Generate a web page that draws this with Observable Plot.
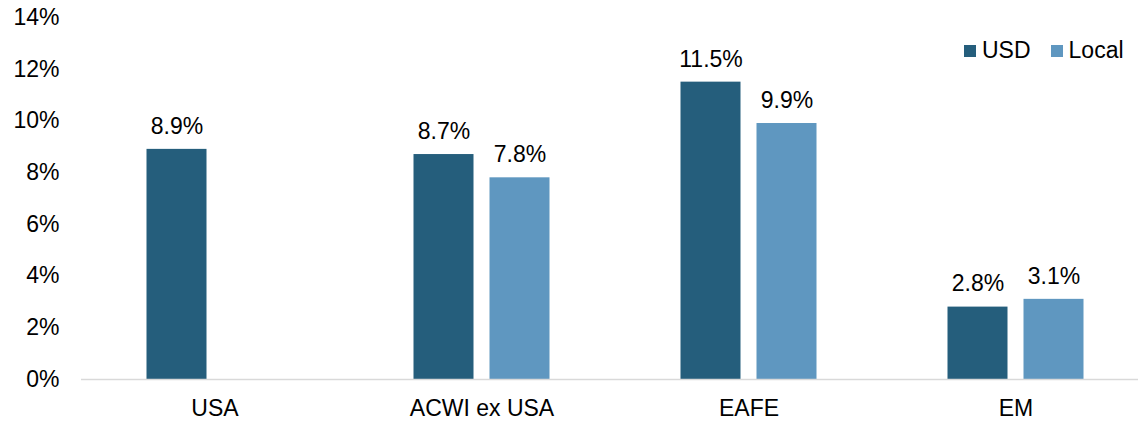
<!DOCTYPE html>
<html>
<head>
<meta charset="utf-8">
<script src="https://cdn.jsdelivr.net/npm/d3@7"></script>
<script src="https://cdn.jsdelivr.net/npm/@observablehq/plot@0.6"></script>
<style>
  html, body { margin: 0; padding: 0; background: #fff; }
  #wrap { position: relative; width: 1138px; height: 421px; font-family: "Liberation Sans", Arial, sans-serif; }
  #legend { position: absolute; left: 964px; top: 34px; width: 174px; white-space: nowrap; }
  .lg-swatches { font-family: "Liberation Sans", Arial, sans-serif !important; font-size: 23px !important; color: #000 !important; margin: 0 !important; flex-wrap: nowrap !important; }
  .lg-swatch { margin-right: 20px !important; }
  .lg-swatch > svg { margin-right: 6px !important; }
</style>
</head>
<body>
<div id="wrap"><div id="chart"></div><div id="legend"></div></div>
<script>
const categories = ["USA", "ACWI ex USA", "EAFE", "EM"];
const seriesNames = ["USD", "Local"];
const usdValues = [8.9, 8.7, 11.5, 2.8];
const localValues = [null, 7.8, 9.9, 3.1];
const seriesColors = ["#255e7c", "#5f97c0"];
const yTicks = [0, 2, 4, 6, 8, 10, 12, 14];

const usdRows = categories.map((c, i) => ({category: c, series: "USD", value: usdValues[i]})).filter(d => d.value != null);
const localRows = categories.map((c, i) => ({category: c, series: "Local", value: localValues[i]})).filter(d => d.value != null);

const font = "Liberation Sans, Arial, sans-serif";
const barInset = 103.5;
const offset = 38;

const chart = Plot.plot({
  width: 1138,
  height: 421,
  marginLeft: 81,
  marginRight: 0,
  marginTop: 17,
  marginBottom: 42,
  style: {fontFamily: font, fontSize: "23px", color: "#000", background: "#fff"},
  x: {domain: categories, range: [81, 1149], padding: 0, label: null},
  y: {domain: [0, 14], label: null},
  color: {domain: seriesNames, range: seriesColors},
  marks: [
    Plot.axisY({ticks: yTicks, tickSize: 0, tickPadding: 22, tickFormat: d => d + "%", fontSize: 23, label: null}),
    Plot.axisX({tickSize: 0, tickPadding: 20, fontSize: 23, label: null}),
    Plot.barY(usdRows, {x: "category", y: "value", fill: "series", dx: -offset, insetLeft: barInset, insetRight: barInset}),
    Plot.barY(localRows, {x: "category", y: "value", fill: "series", dx: offset, insetLeft: barInset, insetRight: barInset}),
    Plot.ruleY([0], {stroke: "#d9d9d9", strokeWidth: 1.5}),
    Plot.text(usdRows, {x: "category", y: "value", text: d => d.value.toFixed(1) + "%", dx: -offset, dy: -23, fontSize: 23, fill: "#000"}),
    Plot.text(localRows, {x: "category", y: "value", text: d => d.value.toFixed(1) + "%", dx: offset, dy: -23, fontSize: 23, fill: "#000"})
  ]
});
document.getElementById("chart").appendChild(chart);

const legend = chart.legend("color", {legend: "swatches", swatchSize: 12, className: "lg"});
document.getElementById("legend").appendChild(legend);
</script>
</body>
</html>
